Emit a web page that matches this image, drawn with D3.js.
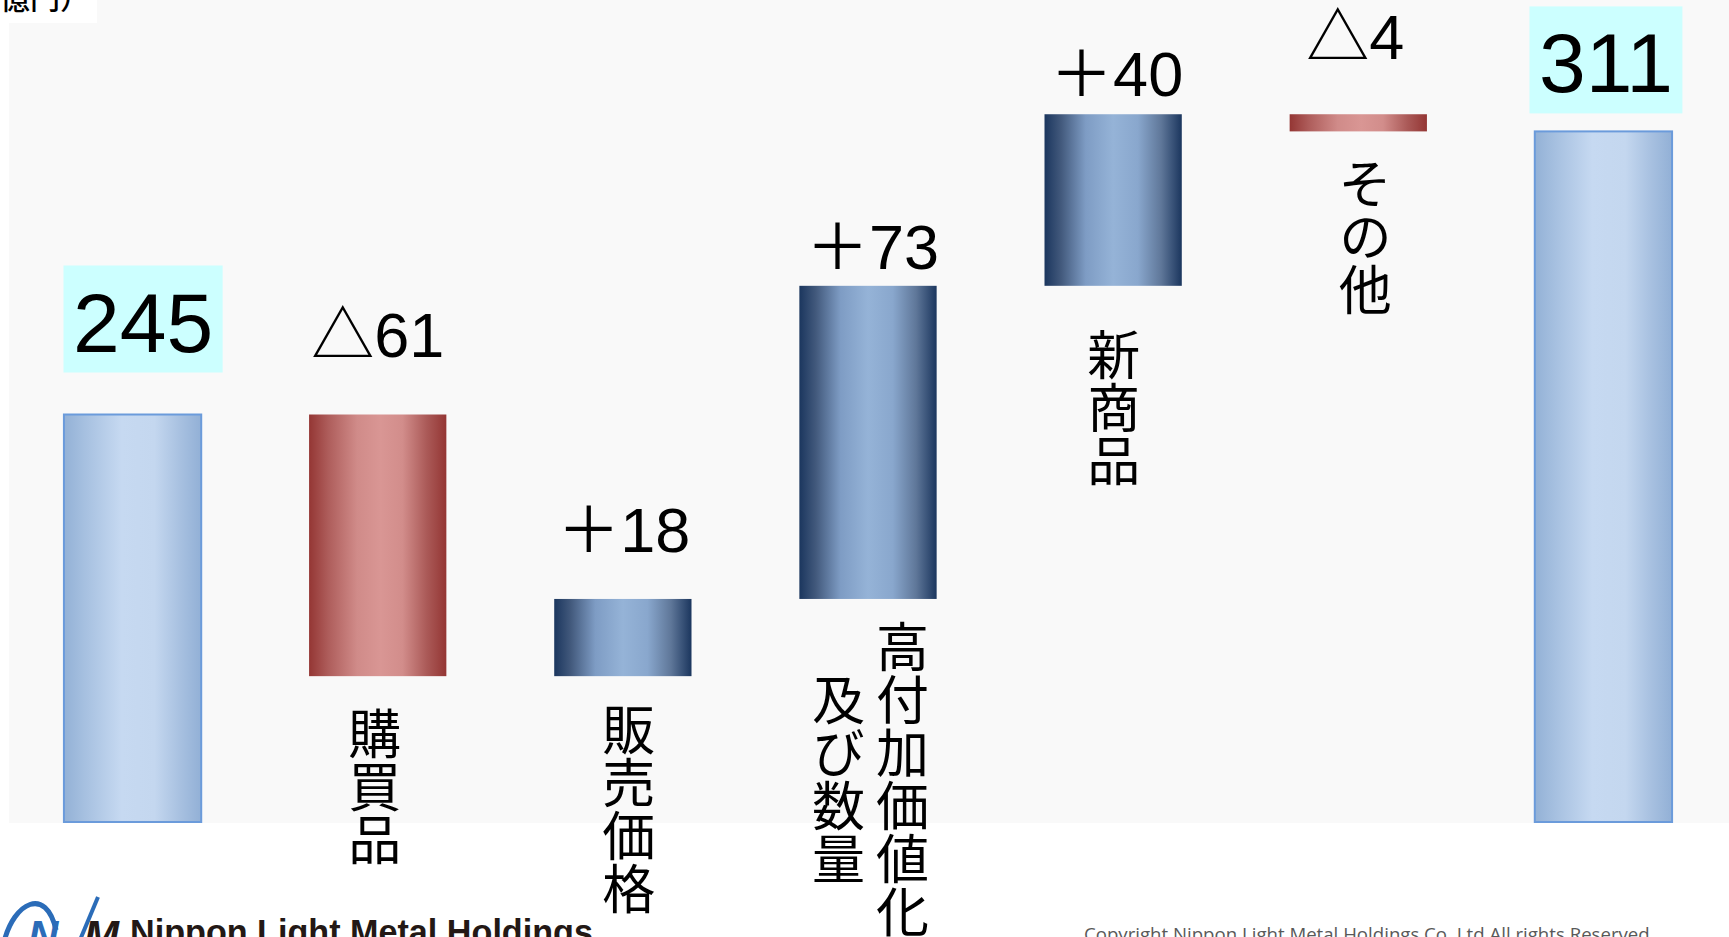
<!DOCTYPE html>
<html>
<head>
<meta charset="utf-8">
<script src="https://cdn.jsdelivr.net/npm/d3@7"></script>
<style>
  html, body { margin: 0; padding: 0; background: #ffffff; overflow: hidden; }
  svg { display: block; }
</style>
</head>
<body>
<svg id="chart" width="1729" height="937"></svg>
<script>
// ---- data (億円) ----
const unitLabel = "（億円）";
const startTotal = 245;
const changes = [-61, 18, 73, 40, -4];
const endTotal = 311;
// vertical category captions, one inner array entry per column (right to left)
const categoryLines = [[], ["購買品"], ["販売価格"], ["高付加価値化", "及び数量"], ["新商品"], ["その他"], []];
const axisDomain = [150, 340];
const footerName = "Nippon Light Metal Holdings";
const copyright = "Copyright Nippon Light Metal Holdings Co.,Ltd.All rights Reserved.";

// ---- build the waterfall steps ----
const steps = [];
let running = startTotal;
steps.push({ kind: "total", from: axisDomain[0], to: startTotal, value: startTotal });
changes.forEach(c => {
  steps.push({ kind: c >= 0 ? "up" : "down", from: running, to: running + c, value: c });
  running += c;
});
steps.push({ kind: "total", from: axisDomain[0], to: endTotal, value: endTotal });

const fmt = d => d.kind === "total" ? String(d.value) : (d.value >= 0 ? "＋" + d.value : "△" + Math.abs(d.value));

// ---- layout ----
const W = 1729, H = 937;
const plotBottom = 822;
const svg = d3.select("#chart");

const x = d3.scaleBand().domain(d3.range(steps.length)).range([10, 1726]).paddingInner(0.44).paddingOuter(0.22);
const y = d3.scaleLinear().domain(axisDomain).range([plotBottom, 7]);

// label placement tweaks (px): value label baseline above bar top, horizontal nudge,
// caption gap below bar bottom, caption horizontal nudge
const valueLift = [63, 58, 47, 17, 18, 55, 39];
const valueDx   = [10.5, 0, 1, 4.5, 3.5, -3, 2.5];
const capGap    = [0, 31, 27, 21, 43, 26, 0];
const capDx     = [0, -3, 6, 2.5, 0.5, 7, 0];

// ---- gradients ----
const defs = svg.append("defs");
function grad(id, stops) {
  const g = defs.append("linearGradient").attr("id", id)
    .attr("x1", 0).attr("x2", 1).attr("y1", 0).attr("y2", 0);
  stops.forEach(([o, c]) => g.append("stop").attr("offset", o).attr("stop-color", c));
}
grad("g-total", [[0, "#93b1d6"], [0.15, "#a6c0e0"], [0.42, "#c6d9f1"], [0.66, "#c4d7ef"], [0.85, "#a7c0e0"], [1, "#92b0d6"]]);
grad("g-up",    [[0, "#1b365e"], [0.12, "#42597c"], [0.3, "#7e9cc4"], [0.5, "#95b3d7"], [0.68, "#89a7cd"], [0.85, "#5f7799"], [1, "#1b365e"]]);
grad("g-down",  [[0, "#943634"], [0.14, "#ae5d5b"], [0.35, "#d08b89"], [0.52, "#d99694"], [0.68, "#d28d8b"], [0.86, "#aa5957"], [1, "#943634"]]);

// ---- plot background ----
svg.append("rect").attr("x", 9).attr("y", 0).attr("width", W - 9).attr("height", plotBottom + 1)
  .attr("fill", "#f9f9f9");

// unit box, top-left
svg.append("rect").attr("x", 0).attr("y", 0).attr("width", 97).attr("height", 23).attr("fill", "#ffffff");
svg.append("text").attr("x", -30).attr("y", 9)
  .attr("font-family", "'Noto Sans CJK JP', sans-serif").attr("font-size", 30).attr("font-weight", 500)
  .attr("fill", "#000").text(unitLabel);

// ---- bars ----
const fillFor = k => k === "total" ? "url(#g-total)" : k === "up" ? "url(#g-up)" : "url(#g-down)";
svg.append("g").selectAll("rect").data(steps).join("rect")
  .attr("x", (d, i) => x(i))
  .attr("width", x.bandwidth())
  .attr("y", d => y(Math.max(d.from, d.to)))
  .attr("height", d => Math.abs(y(d.from) - y(d.to)))
  .attr("fill", d => fillFor(d.kind))
  .attr("stroke", d => d.kind === "total" ? "#6b9bdb" : "none")
  .attr("stroke-width", 2);

// ---- value labels ----
const numFont = "'Liberation Sans', Arial, 'Noto Sans CJK JP', sans-serif";
const valG = svg.append("g");
steps.forEach((d, i) => {
  const top = y(Math.max(d.from, d.to));
  const cx = x(i) + x.bandwidth() / 2 + valueDx[i];
  const base = top - valueLift[i];
  const g = valG.append("g");
  const t = g.append("text")
    .attr("x", cx).attr("y", base)
    .attr("text-anchor", "middle")
    .attr("font-family", numFont)
    .attr("font-size", d.kind === "total" ? 84 : 63)
    .attr("fill", "#000")
    .text(fmt(d));
  if (d.kind === "total") {
    const bb = t.node().getBBox();
    g.insert("rect", "text")
      .attr("x", bb.x - 9.5).attr("width", bb.width + 19)
      .attr("y", base - 86).attr("height", 107)
      .attr("fill", "#ccffff");
  }
});

// ---- vertical category captions ----
const capFont = 53, colGap = 64;
const capG = svg.append("g");
steps.forEach((d, i) => {
  const lines = categoryLines[i];
  if (!lines.length) return;
  const bottom = y(Math.min(d.from, d.to));
  const maxLen = d3.max(lines, l => l.length);
  const cy = bottom + capGap[i] + maxLen * capFont / 2;
  const cx = x(i) + x.bandwidth() / 2 + capDx[i];
  lines.forEach((line, j) => {
    const colX = cx + ((lines.length - 1) / 2 - j) * colGap;
    capG.append("text")
      .attr("x", colX).attr("y", cy)
      .attr("text-anchor", "middle")
      .style("writing-mode", "vertical-rl")
      .style("text-orientation", "upright")
      .attr("font-family", "'Noto Sans CJK JP', sans-serif")
      .attr("font-size", capFont)
      .attr("fill", "#000")
      .text(line);
  });
});

// ---- footer ----
const foot = svg.append("g");
foot.append("path")
  .attr("d", "M4,942 C14,902 46,886 56,930")
  .attr("fill", "none").attr("stroke", "#2b6cb8").attr("stroke-width", 5);
foot.append("line").attr("x1", 98).attr("y1", 897).attr("x2", 80).attr("y2", 940)
  .attr("stroke", "#2b6cb8").attr("stroke-width", 4);
foot.append("text").attr("x", 28).attr("y", 950)
  .attr("font-family", "'Liberation Sans', Arial, sans-serif").attr("font-weight", 700)
  .attr("font-style", "italic").attr("font-size", 42).attr("fill", "#2b6cb8").text("N");
foot.append("text").attr("x", 84).attr("y", 950)
  .attr("font-family", "'Liberation Sans', Arial, sans-serif").attr("font-weight", 700)
  .attr("font-style", "italic").attr("font-size", 42).attr("fill", "#231815").text("M");

const nameT = foot.append("text").attr("x", 130).attr("y", 944)
  .attr("font-family", "'Liberation Sans', Arial, sans-serif").attr("font-weight", 700)
  .attr("font-size", 34).attr("fill", "#231815").text(footerName);
const nl = nameT.node().getComputedTextLength();
nameT.attr("font-size", 34 * 463 / nl);

const copyT = foot.append("text").attr("x", 1084).attr("y", 941)
  .attr("font-family", "'Open Sans', 'Noto Sans', sans-serif")
  .attr("font-size", 18).attr("fill", "#595959").text(copyright);
const cl = copyT.node().getComputedTextLength();
copyT.attr("font-size", 18 * 571 / cl);
</script>
</body>
</html>
